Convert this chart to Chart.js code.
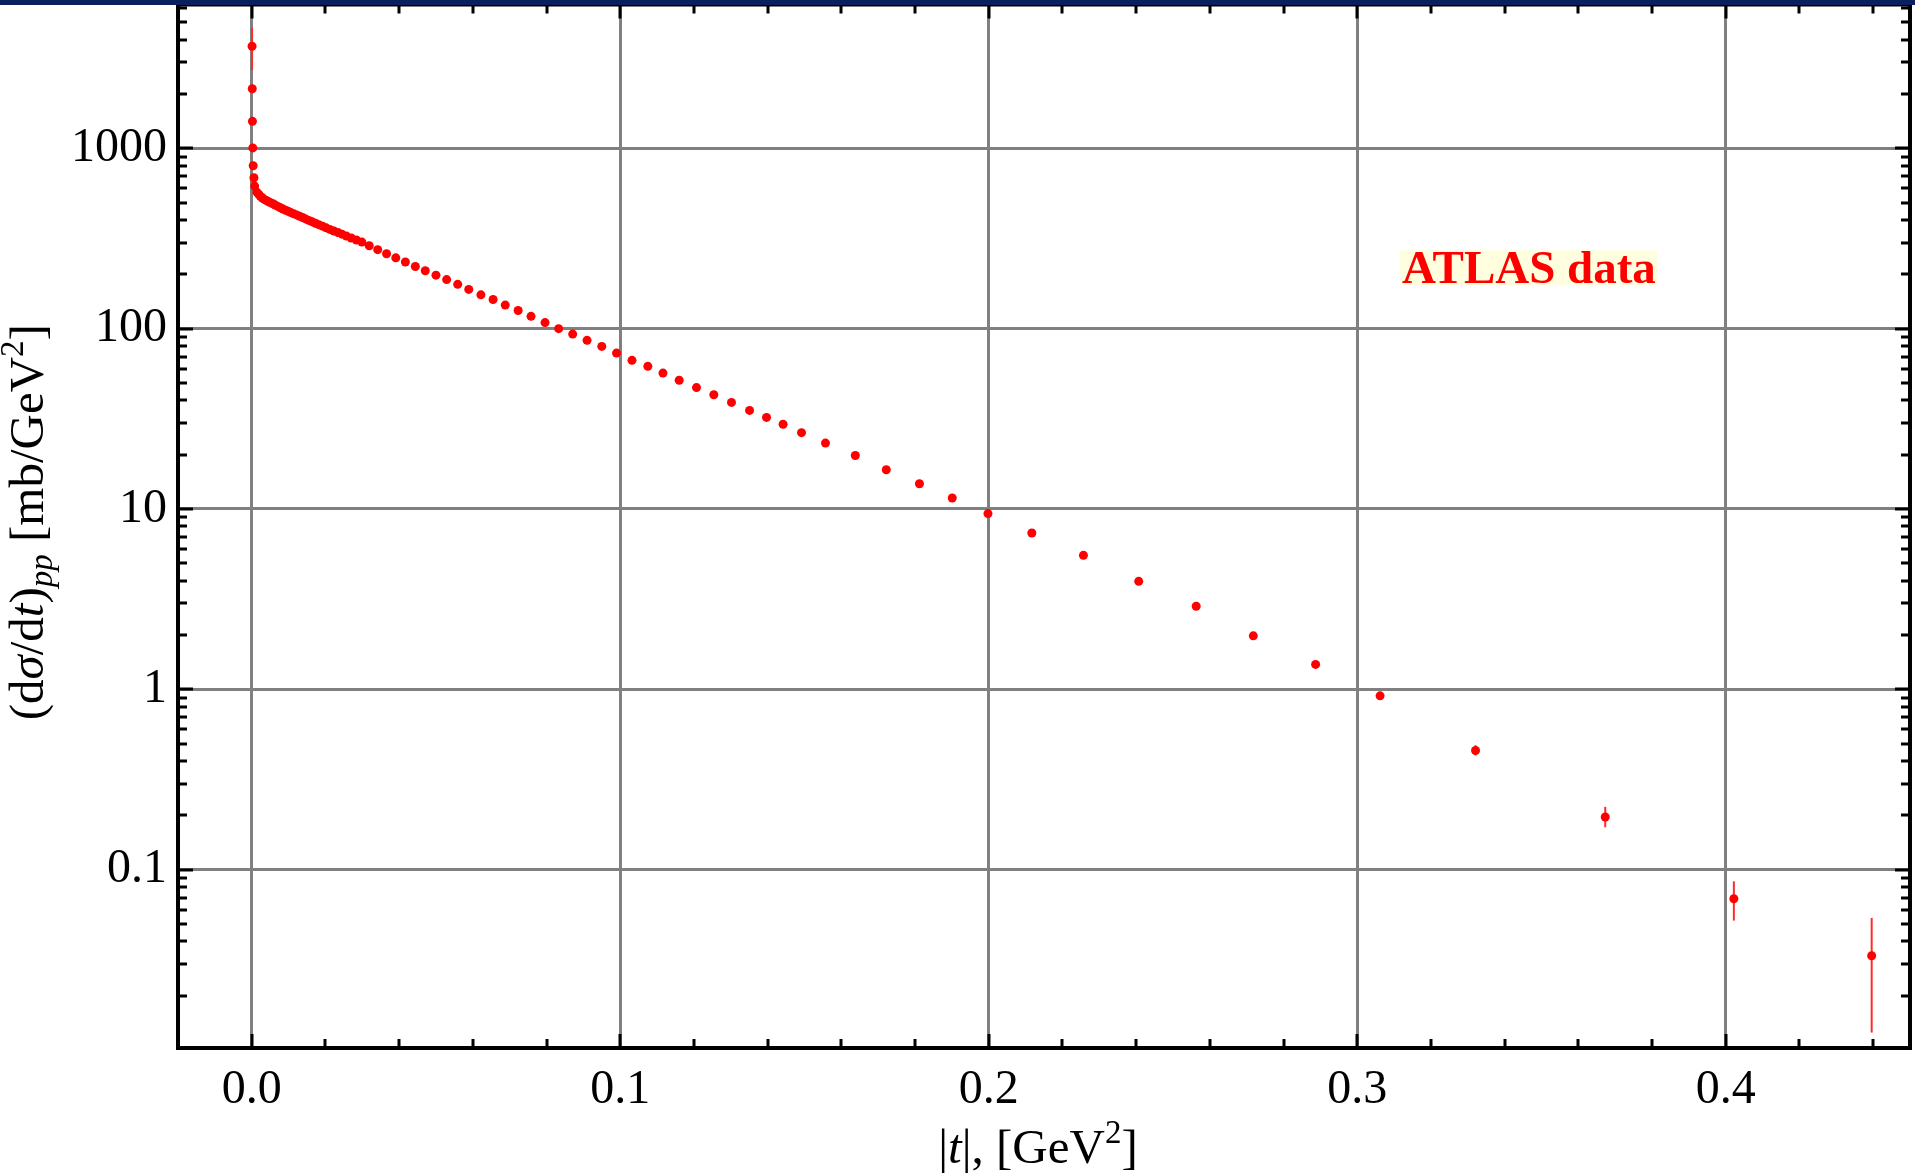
<!DOCTYPE html>
<html>
<head>
<meta charset="utf-8">
<script src="https://cdn.jsdelivr.net/npm/chart.js@4.4.1/dist/chart.umd.min.js"></script>
<style>
  html, body { margin: 0; padding: 0; background: #fff; }
  canvas { display: block; }
</style>
</head>
<body>
<canvas id="myChart" width="1915" height="1176"></canvas>
<script>
// ATLAS elastic pp data
const tValues = [
  0.0001, 0.00015, 0.0002, 0.0003, 0.0004, 0.0006, 0.0008,
  0.0014, 0.0019, 0.0024, 0.0029, 0.0034, 0.0040, 0.0046, 0.0052, 0.0058, 0.0064,
  0.0071, 0.0078, 0.0085, 0.0092, 0.0099, 0.0106, 0.0114, 0.0122, 0.0130, 0.0138,
  0.0146, 0.0155, 0.0164, 0.0173, 0.0182, 0.0192, 0.0202, 0.0212, 0.0223, 0.0234,
  0.0245, 0.0257, 0.0270, 0.0284,
  0.0299, 0.0319, 0.0342, 0.0366, 0.0391, 0.0417, 0.0444, 0.0471, 0.0500, 0.0529,
  0.0559, 0.0589, 0.0622, 0.0655, 0.0688, 0.0723, 0.0758, 0.0796, 0.0833, 0.0871,
  0.0910, 0.0950, 0.0990, 0.1032, 0.1075, 0.1116, 0.1160, 0.1207, 0.1254, 0.1302,
  0.1351, 0.1397, 0.1442, 0.1492, 0.1557, 0.1638, 0.1722, 0.1812, 0.1901, 0.1998,
  0.2117, 0.2257, 0.2407, 0.2563, 0.2718, 0.2887, 0.3062, 0.3321, 0.3673, 0.4022,
  0.4396
];
const dsdtValues = [
  3680, 2140, 1410, 1005, 800, 686, 617,
  571, 556, 540, 530, 521, 513, 505, 498, 492, 484,
  476, 468, 460, 453, 447, 440, 433, 427, 420, 413,
  406, 398, 391, 384, 377, 370, 362, 355, 348, 341,
  334, 326, 318, 310,
  302, 288, 274, 260, 247, 234, 221, 209.5, 198, 187,
  176, 165, 154, 145, 135, 126, 117, 108, 100, 93.3,
  86.1, 79.7, 73.2, 66.7, 61.8, 56.7, 51.7, 47.1, 43.0, 39.0,
  35.2, 32.2, 29.5, 26.5, 23.2, 19.8, 16.5, 13.8, 11.5, 9.43,
  7.36, 5.53, 3.97, 2.89, 1.98, 1.375, 0.92, 0.458, 0.196, 0.069,
  0.0333
];

// visible error bars
const errT = [0.0001, 0.3321, 0.3673, 0.4022, 0.4396];
const errLow = [2720, 0.43, 0.172, 0.0522, 0.0125];
const errHigh = [4660, 0.49, 0.223, 0.0861, 0.054];

// axes
const xTicks = [0, 0.1, 0.2, 0.3, 0.4];
const yTicks = [0.1, 1, 10, 100, 1000];
const xMin = -0.02, xMax = 0.45;
const yMin = 0.01026, yMax = 6270;

const serif = "'Liberation Serif', 'Times New Roman', serif";

// draw a line of text made of runs (italic, sub/superscripts)
function drawRuns(ctx, runs, x, y) {
  let total = 0;
  runs.forEach(r => {
    ctx.font = (r.italic ? "italic " : "") + (r.size || 49) + "px " + serif;
    r.w = ctx.measureText(r.t).width;
    total += r.w;
  });
  let cx = x - total / 2;
  ctx.textAlign = "left";
  ctx.textBaseline = "alphabetic";
  runs.forEach(r => {
    ctx.font = (r.italic ? "italic " : "") + (r.size || 49) + "px " + serif;
    ctx.fillText(r.t, cx, y + (r.dy || 0));
    cx += r.w;
  });
}

const framePlugin = {
  id: "frame",
  beforeDatasetsDraw(chart) {
    const ctx = chart.ctx;
    const xs = chart.scales.x, ys = chart.scales.y;
    ctx.save();
    ctx.strokeStyle = "#ff2a2a";
    ctx.lineWidth = 2;
    for (let i = 0; i < errT.length; i++) {
      const px = xs.getPixelForValue(errT[i]);
      ctx.beginPath();
      ctx.moveTo(px, ys.getPixelForValue(errLow[i]));
      ctx.lineTo(px, ys.getPixelForValue(errHigh[i]));
      ctx.stroke();
    }
    ctx.restore();
  },
  afterDraw(chart) {
    const ctx = chart.ctx;
    const a = chart.chartArea;
    const xs = chart.scales.x, ys = chart.scales.y;
    ctx.save();
    ctx.strokeStyle = "#000";
    ctx.lineWidth = 3;
    ctx.lineCap = "butt";

    // ticks inside the frame, x
    for (let k = -1; k <= 22; k++) {
      const v = k * 0.02;
      if (v < xMin || v > xMax) continue;
      const px = Math.round(xs.getPixelForValue(v));
      const len = k % 5 === 0 ? 14 : 9;
      ctx.beginPath();
      ctx.moveTo(px, a.bottom); ctx.lineTo(px, a.bottom - len);
      ctx.moveTo(px, a.top); ctx.lineTo(px, a.top + len);
      ctx.stroke();
    }
    // ticks inside the frame, y
    for (let e = -2; e <= 3; e++) {
      for (let m = 1; m <= 9; m++) {
        const v = m * Math.pow(10, e);
        if (v < yMin || v > yMax) continue;
        const py = Math.round(ys.getPixelForValue(v));
        const len = m === 1 ? 15 : 9;
        ctx.beginPath();
        ctx.moveTo(a.left, py); ctx.lineTo(a.left + len, py);
        ctx.moveTo(a.right, py); ctx.lineTo(a.right - len, py);
        ctx.stroke();
      }
    }

    // frame
    ctx.lineWidth = 4;
    ctx.strokeRect(a.left, a.top, a.right - a.left, a.bottom - a.top);

    // dark band at the very top
    ctx.fillStyle = "#0b1f5e";
    ctx.fillRect(0, 0, chart.width, 5);

    // axis titles
    ctx.fillStyle = "#000";
    drawRuns(ctx, [
      { t: "|" }, { t: "t", italic: true }, { t: "|, [GeV" },
      { t: "2", size: 33, dy: -20 }, { t: "]" }
    ], (a.left + a.right) / 2 - 6, 1163);

    ctx.save();
    ctx.translate(43, (a.top + a.bottom) / 2 - 4);
    ctx.rotate(-Math.PI / 2);
    drawRuns(ctx, [
      { t: "(d" }, { t: "σ", italic: true }, { t: "/d" }, { t: "t", italic: true },
      { t: ")" }, { t: "pp", italic: true, size: 33, dy: 9 }, { t: " [mb/GeV" },
      { t: "2", size: 33, dy: -20 }, { t: "]" }
    ], 0, 0);
    ctx.restore();

    // ATLAS data label
    const lx = xs.getPixelForValue(0.3466);
    const ly = ys.getPixelForValue(216) + 15;
    ctx.font = "bold 47px " + serif;
    ctx.textAlign = "center";
    ctx.textBaseline = "alphabetic";
    const m = ctx.measureText("ATLAS data");
    ctx.fillStyle = "#ffffe0";
    ctx.fillRect(lx - m.width / 2 - 2, ly - m.actualBoundingBoxAscent - 1, m.width + 4, m.actualBoundingBoxAscent + 3);
    ctx.fillStyle = "#ff0000";
    ctx.fillText("ATLAS data", lx, ly);
    ctx.restore();
  }
};

function noEdgePadding(scale) {
  scale.paddingTop = 0;
  scale.paddingBottom = 0;
  scale.paddingLeft = 0;
  scale.paddingRight = 0;
}

const ctx = document.getElementById("myChart");
const myChart = new Chart(ctx, {
  type: "scatter",
  data: {
    datasets: [
      {
        label: "ATLAS data",
        data: tValues.map((t, i) => ({ x: t, y: dsdtValues[i] })),
        backgroundColor: "#ff0000",
        borderWidth: 0,
        pointRadius: 4.5,
        pointHoverRadius: 4.5,
        clip: false,
      },
    ],
  },
  plugins: [framePlugin],
  options: {
    responsive: false,
    animation: false,
    devicePixelRatio: 1,
    layout: { padding: { top: 4, right: 5, left: 0, bottom: 0 } },
    plugins: {
      legend: { display: false },
      tooltip: { enabled: false },
    },
    scales: {
      x: {
        type: "linear",
        min: xMin,
        max: xMax,
        afterBuildTicks: (scale) => { scale.ticks = xTicks.map(v => ({ value: v })); },
        afterFit: (scale) => { scale.height = 128; noEdgePadding(scale); },
        grid: { color: "#808080", lineWidth: 3, drawTicks: false },
        border: { display: false },
        ticks: {
          autoSkip: false,
          maxRotation: 0,
          padding: 14,
          color: "#000",
          font: { family: serif, size: 48 },
          callback: (v) => v.toFixed(1),
        },
      },
      y: {
        type: "logarithmic",
        min: yMin,
        max: yMax,
        afterBuildTicks: (scale) => { scale.ticks = yTicks.map(v => ({ value: v })); },
        afterFit: (scale) => { scale.width = 178; noEdgePadding(scale); },
        grid: { color: "#808080", lineWidth: 3, drawTicks: false },
        border: { display: false },
        ticks: {
          autoSkip: false,
          padding: 11,
          color: "#000",
          font: { family: serif, size: 48 },
          callback: (v) => String(v),
        },
      },
    },
  },
});
</script>
</body>
</html>
